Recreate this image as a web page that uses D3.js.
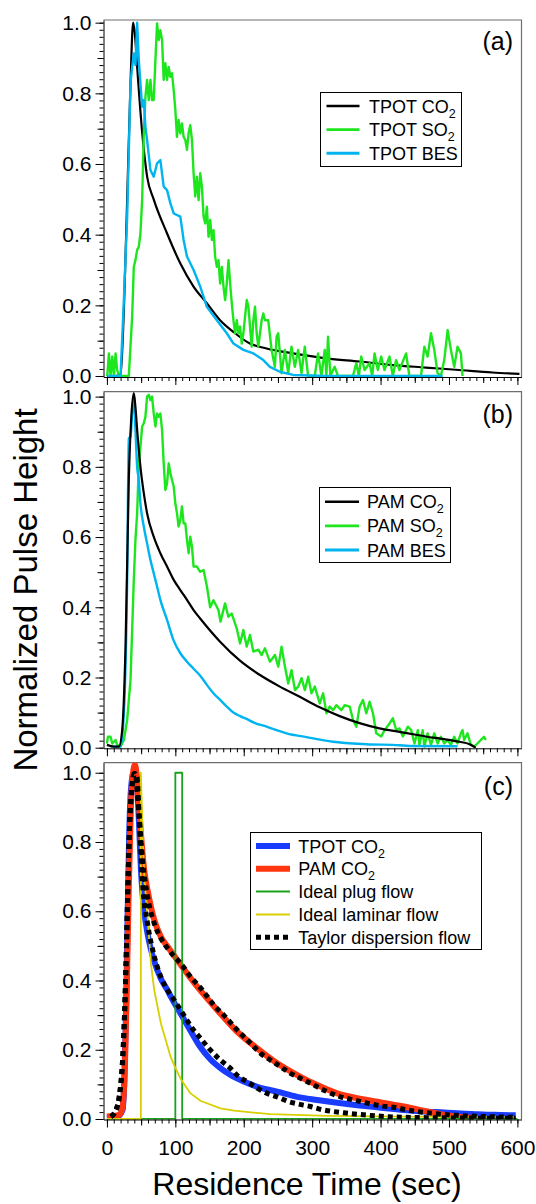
<!DOCTYPE html>
<html>
<head>
<meta charset="utf-8">
<script src="https://cdn.jsdelivr.net/npm/d3@7"></script>
<style>
body { margin: 0; background: #fff; }
text { font-family: "Liberation Sans", Arial, sans-serif; }
</style>
</head>
<body>
<svg id="chart" width="536" height="1204"></svg>
<script>
// series as [residence time (s), normalized pulse height]

// panel (a)
var tpotCO2 = [[0,0],[12,0],[20,0.005],[25,0.2],[29.6,0.5],[34.5,0.83],[38.3,1.0],[40.8,0.97],[44.2,0.875],
    [51.5,0.69],[58.7,0.565],[68.4,0.5],[87.8,0.404],[107.2,0.319],[126.6,0.253],[146,0.206],[165.4,0.158],
    [184.8,0.125],[209,0.092],[233.3,0.078],[272.2,0.064],[320.7,0.05],[369.2,0.041],[417.8,0.031],
    [466.3,0.024],[514.8,0.017],[563.3,0.01],[603,0.006]];

var tpotSO2 = [[0.5,0],[2.9,0.064],[5.3,0],[7.8,0.055],[10.2,0],[12.6,0.064],[15,0.017],[17.5,0],[32,0],
    [36.9,0.168],[39.3,0.309],[41.7,0.328],[44.2,0.357],[46.6,0.366],[49,0.404],[51.5,0.498],[53.9,0.687],
    [56.3,0.791],[58.7,0.838],[61.2,0.781],[63.6,0.838],[66,0.781],[68.4,0.781],[70.9,0.894],[73.3,0.998],
    [75.7,0.951],[78.1,0.979],[80.6,0.951],[83,0.838],[85.4,0.885],[87.9,0.838],[90.3,0.875],[92.7,0.847],
    [95.1,0.857],[97.6,0.809],[100,0.753],[102.4,0.677],[104.8,0.725],[107.3,0.687],[109.7,0.715],
    [112.1,0.677],[114.6,0.668],[117,0.64],[119.4,0.687],[121.8,0.71],[124.3,0.668],[126.7,0.574],
    [129.1,0.508],[131.5,0.564],[134,0.498],[136.4,0.574],[138.8,0.536],[141.3,0.451],[143.7,0.432],
    [146.1,0.479],[148.5,0.394],[151,0.442],[153.4,0.385],[155.8,0.413],[158.2,0.338],[160.7,0.309],
    [163.1,0.328],[165.5,0.262],[168,0.309],[170.4,0.253],[172.8,0.215],[175.2,0.262],[177.7,0.328],
    [180.1,0.262],[182.5,0.206],[184.9,0.158],[187.4,0.121],[189.8,0.158],[192.2,0.121],[194.6,0.14],
    [197.1,0.092],[199.5,0.121],[201.9,0.168],[204.4,0.215],[206.8,0.196],[209.2,0.14],[211.6,0.083],
    [214.1,0.158],[216.5,0.196],[218.9,0.121],[221.3,0.083],[223.8,0.121],[226.2,0.158],[228.6,0.177],
    [231.1,0.158],[235.8,0.158],[240.7,0.074],[245.5,0.026],[248,0.111],[250.4,0.121],[255.2,0.008],
    [260.1,0.074],[265,0.008],[269.8,0.083],[274.7,0.026],[279.5,0.074],[284.4,0.008],[289.2,0.083],
    [294.1,0],[303.8,0],[308.6,0.064],[313.5,0],[318.4,0.074],[320.8,0],[323.2,0.111],[326.6,0],
    [332.9,0.026],[337.8,0],[359.6,0],[364.5,0.036],[368.3,0],[371.7,0.055],[376.6,0.017],[383.9,0.036],
    [387.8,0],[391.2,0.064],[396,0.017],[400.9,0.055],[405.7,0.017],[413,0.055],[417.9,0],[422.7,0.045],
    [427.6,0.017],[437.3,0.064],[442.1,0],[459.1,0],[464,0.083],[468.8,0.055],[473.7,0.121],[478.5,0.074],
    [483.4,0.008],[488.2,0],[493.1,0.045],[498,0.13],[502.8,0.074],[507.7,0.026],[512.5,0.083],
    [517.4,0.064],[519.8,0]];

var tpotBES = [[0.5,0],[19.9,0],[24.8,0.215],[29.6,0.45],[34.5,0.83],[36.9,0.875],[39.3,0.913],[41.7,0.88],
    [44.2,1.0],[46.6,0.894],[49,0.828],[51.5,0.762],[53.9,0.781],[56.3,0.706],[58.7,0.668],[63.6,0.583],
    [68.4,0.564],[73.3,0.602],[78.1,0.611],[83,0.536],[87.9,0.526],[92.7,0.489],[97.6,0.46],[107.3,0.451],
    [112.1,0.385],[117,0.338],[126.7,0.3],[136.4,0.253],[146.1,0.196],[160.7,0.158],[175.2,0.121],
    [184.9,0.092],[199.5,0.074],[214.1,0.064],[228.6,0.045],[238.3,0.026],[252.8,0.012],[272.2,0.003],
    [320,0],[400,0],[490.7,0]];

// panel (b)
var pamCO2 = [[0,0.008],[10.2,0.003],[17.5,0.003],[22.3,0.05],[27.2,0.288],[32,0.763],[35.4,0.934],
    [39.3,1.01],[41.7,0.97],[44.2,0.905],[49,0.8],[53.9,0.725],[58.7,0.668],[68.4,0.601],[78.1,0.554],
    [87.9,0.516],[97.6,0.478],[107.3,0.449],[117,0.421],[126.7,0.392],[136.3,0.368],[165.4,0.302],
    [194.5,0.248],[223.7,0.207],[252.8,0.174],[281.9,0.145],[311,0.115],[340.2,0.09],[369.3,0.07],
    [398.4,0.055],[427.5,0.045],[451.9,0.037],[466,0.032],[490,0.025],[515,0.017],[530,0.01],[539,0]];

var pamSO2 = [[0,0.012],[1.5,0.031],[5.3,0.031],[7.8,0.012],[10.2,0.017],[12.6,0.022],[15,0.008],
    [19.9,0.003],[24.8,0.022],[29.6,0.079],[34.5,0.193],[39.3,0.478],[41.7,0.592],[44.2,0.668],[46.6,0.81],
    [49,0.858],[51.5,0.915],[53.9,0.924],[56.3,0.943],[58.7,1.0],[61.2,1.005],[63.6,0.99],[66,1.0],
    [68.4,0.952],[70.9,0.915],[73.3,0.952],[75.7,0.943],[78.1,0.952],[80.6,0.905],[83,0.81],[85.4,0.734],
    [87.9,0.753],[90.3,0.81],[92.7,0.782],[95.1,0.763],[97.6,0.744],[100,0.696],[102.4,0.668],[104.8,0.63],
    [107.3,0.649],[109.7,0.687],[112.1,0.639],[114.6,0.639],[117,0.592],[119.4,0.554],[121.8,0.601],
    [124.3,0.573],[126.7,0.516],[131.5,0.516],[136.4,0.501],[141.3,0.506],[146.1,0.46],[150.9,0.4],
    [155.7,0.42],[163,0.392],[166,0.359],[172.7,0.411],[177.5,0.373],[182.4,0.382],[189.7,0.34],
    [194.6,0.297],[199.4,0.335],[204.3,0.288],[209.1,0.321],[214,0.274],[221.3,0.279],[226.2,0.264],
    [231,0.283],[238.3,0.245],[245.6,0.264],[250.5,0.231],[255.3,0.288],[260.2,0.231],[265,0.183],
    [269.9,0.221],[274.8,0.164],[279.6,0.174],[284.5,0.198],[289.3,0.164],[294.2,0.202],[299,0.155],
    [303.9,0.174],[311.1,0.126],[316,0.155],[320.9,0.098],[325.7,0.117],[330.6,0.107],[335.4,0.121],
    [342.7,0.107],[347.6,0.121],[354.9,0.117],[359.7,0.079],[364.6,0.06],[369.4,0.117],[374.3,0.136],
    [379.1,0.098],[384,0.131],[388.9,0.098],[393.7,0.041],[401,0.032],[405.9,0.05],[413.2,0.069],
    [418,0.084],[422.9,0.05],[427.7,0.055],[432.6,0.032],[439.9,0.06],[444.8,0.05],[449.6,0.012],
    [454.5,0.05],[456.7,0.008],[461.5,0.05],[464,0.003],[468.8,0.041],[473.7,0.008],[478.5,0.041],
    [483.4,0.012],[488.2,0.031],[493.1,0.012],[498,0.022],[502.8,0.008],[507.7,0.031],[512.5,0.012],
    [517.4,0.041],[519.8,0.05],[522.2,0.022],[527.1,0.041],[532,0.008],[536.8,0.003],[541.6,0.012],
    [546.5,0.022],[551.3,0.031],[553.8,0.022]];

var pamBES = [[5.3,0.003],[19.9,0.003],[24.8,0.098],[29.6,0.478],[32,0.881],[34.5,0.886],[36.9,0.952],
    [39.3,1.005],[41.7,0.905],[44.2,0.8],[46.6,0.763],[49,0.696],[53.9,0.63],[58.7,0.582],[63.6,0.535],
    [68.4,0.497],[73.3,0.459],[78.1,0.421],[87.9,0.364],[97.6,0.305],[107.3,0.269],[117,0.245],
    [126.7,0.225],[136.4,0.205],[146.1,0.179],[155.7,0.155],[165.5,0.136],[175.2,0.117],[184.9,0.1],
    [194.6,0.09],[204.3,0.082],[214.1,0.072],[233.4,0.06],[248,0.05],[262.6,0.041],[291.7,0.03],
    [330.4,0.017],[379,0.01],[427.5,0.007],[442.1,0.005],[512.5,0.004]];

// panel (c)
var fitTpotCO2 = [[0,0.002],[15.6,0.007],[22.9,0.026],[25.3,0.103],[27.8,0.295],[30.2,0.584],[32.6,0.825],
    [35.1,0.95],[39,1.0],[42.4,0.998],[44.8,0.94],[47.2,0.84],[49.7,0.72],[52.1,0.65],[54.5,0.6],
    [59.4,0.535],[64.3,0.49],[69.2,0.455],[78.9,0.405],[88.6,0.372],[93,0.355],[107.6,0.305],
    [122.2,0.255],[136.8,0.207],[151.4,0.172],[166,0.147],[180.7,0.127],[200.1,0.108],[219.7,0.093],
    [248.9,0.079],[278.2,0.064],[307.4,0.055],[336.6,0.047],[365.9,0.04],[395.1,0.034],[434,0.026],
    [468.5,0.021],[492.9,0.019],[517.2,0.016],[541.6,0.014],[565.9,0.012],[597.6,0.011]];

var fitPamCO2 = [[0,0.007],[18,0.012],[22.9,0.036],[26.3,0.151],[29.2,0.392],[32.1,0.68],[35.1,0.902],
    [38,0.998],[40.9,1.022],[44.8,0.969],[49.7,0.825],[54.5,0.719],[59.4,0.661],[64.3,0.613],[69.2,0.575],
    [78.9,0.526],[88.6,0.498],[102.8,0.459],[132,0.382],[161.2,0.315],[190.5,0.252],[219.7,0.204],
    [248.9,0.161],[278.2,0.127],[307.4,0.098],[336.6,0.074],[365.9,0.06],[395.1,0.05],[434,0.036],
    [468,0.022],[493,0.012],[517,0.006],[537,0.003]];

var plugFlow = [[0,0],[100,0],[100,1],[110,1],[110,0],[600,0]];

var laminarFlow = [[0,0],[49.6,0],[49.6,1.0],[52.1,0.825],[54.5,0.7],[59.4,0.584],[64.3,0.449],
    [69.2,0.372],[78.9,0.276],[88.6,0.21],[93,0.18],[98.4,0.155],[108.1,0.115],[122.2,0.074],
    [137.3,0.052],[166,0.031],[186,0.024],[239.1,0.014],[322,0.009],[434,0.007],[597.6,0.006]];

var taylorTpot = [[5.8,0.007],[13.1,0.026],[18,0.064],[22.9,0.17],[25.3,0.276],[27.8,0.44],[30.2,0.632],
    [32.6,0.815],[35.1,0.921],[39.9,0.998],[43.8,0.988],[47.2,0.873],[52.1,0.68],[59.4,0.565],
    [69.2,0.47],[78.9,0.41],[88.6,0.372],[97.8,0.345],[112.4,0.3],[124.7,0.262],[136.8,0.233],
    [149,0.204],[166,0.17],[180.7,0.146],[192.8,0.122],[207.4,0.105],[219.7,0.089],[234.3,0.074],
    [248.9,0.064],[265.9,0.05],[280.5,0.043],[297.6,0.036],[312.2,0.028],[346.3,0.018],[375.5,0.012],
    [434,0.005],[597.6,0.002]];

var taylorPam = [[5.8,0.007],[13.1,0.026],[18,0.064],[22.9,0.17],[25.3,0.276],[27.8,0.44],[30.2,0.632],
    [32.6,0.815],[35.1,0.921],[40.9,0.998],[47.2,0.873],[52.1,0.748],[59.4,0.642],[69.2,0.565],
    [78.9,0.522],[88.6,0.493],[98.4,0.469],[107.6,0.45],[122.2,0.411],[139.3,0.373],[156.3,0.329],
    [170.9,0.3],[190.5,0.257],[209.9,0.219],[224.5,0.19],[239.1,0.17],[253.7,0.151],[268.4,0.132],
    [287.8,0.113],[307.4,0.093],[322,0.079],[341.5,0.064],[360.9,0.055],[380.5,0.046],[399.9,0.038],
    [419.4,0.034],[439,0.026],[468.5,0.018],[492.9,0.013],[517.2,0.01],[597.6,0.005]];

var xTicks = [0, 100, 200, 300, 400, 500, 600];
var yTicks = [0, 0.2, 0.4, 0.6, 0.8, 1.0];

var green = '#1ee61e', sky = '#00b4f0';

var panels = [
    { label: '(a)', top: 20, bottom: 377, yMin: -0.0028, yMax: 1.0076, labelY: 50,
      series: [
        { data: tpotCO2, color: '#000', width: 2.2, smooth: true },
        { data: tpotSO2, color: green, width: 2.4 },
        { data: tpotBES, color: sky, width: 2.4 }
      ],
      legend: { x: 320.5, y: 92.5, w: 141, h: 74, rowY: 13.5, step: 23.6, lx: 6, lw: 33, tx: 48.5,
        items: [
          { name: 'TPOT CO', sub: '2', color: '#000', width: 2.6 },
          { name: 'TPOT SO', sub: '2', color: green, width: 2.6 },
          { name: 'TPOT BES', color: sky, width: 3 }
        ] } },
    { label: '(b)', top: 391.7, bottom: 748.3, yMin: -0.0017, yMax: 1.014, labelY: 423,
      series: [
        { data: pamSO2, color: green, width: 2.4 },
        { data: pamBES, color: sky, width: 2.4, smooth: true },
        { data: pamCO2, color: '#000', width: 2.2, smooth: true }
      ],
      legend: { x: 319.5, y: 487.5, w: 131, h: 75, rowY: 14.2, step: 24.2, lx: 5.5, lw: 34, tx: 47.5,
        items: [
          { name: 'PAM CO', sub: '2', color: '#000', width: 2.6 },
          { name: 'PAM SO', sub: '2', color: green, width: 2.6 },
          { name: 'PAM BES', color: sky, width: 3 }
        ] } },
    { label: '(c)', top: 762.7, bottom: 1119.5, yMin: -0.0014, yMax: 1.029, labelY: 795,
      series: [
        { data: fitTpotCO2, color: '#1a3cff', width: 6, smooth: true },
        { data: fitPamCO2, color: '#ff3512', width: 6, smooth: true },
        { data: plugFlow, color: '#1aa31a', width: 1.8 },
        { data: laminarFlow, color: '#d9cf00', width: 1.8 },
        { data: taylorTpot, color: '#000', width: 5, dash: '5,4', smooth: true },
        { data: taylorPam, color: '#000', width: 5, dash: '5,4', smooth: true }
      ],
      legend: { x: 250.5, y: 832.5, w: 231, h: 117, rowY: 13.5, step: 22.8, lx: 5.5, lw: 34, tx: 47.8,
        items: [
          { name: 'TPOT CO', sub: '2', color: '#1a3cff', width: 6 },
          { name: 'PAM CO', sub: '2', color: '#ff3512', width: 6 },
          { name: 'Ideal plug flow', color: '#1aa31a', width: 2 },
          { name: 'Ideal laminar flow', color: '#d9cf00', width: 2 },
          { name: 'Taylor dispersion flow', color: '#000', width: 5, dash: '5,4' }
        ] } }
];

var svg = d3.select('#chart');

var x = d3.scaleLinear().domain([-5, 606]).range([103.5, 521.5]);
var left = x.range()[0], right = x.range()[1];

panels.forEach(function(p, i) {
    var y = d3.scaleLinear().domain([p.yMin, p.yMax]).range([p.bottom, p.top]);
    var g = svg.append('g');

    g.append('clipPath').attr('id', 'clip' + i)
        .append('rect')
        .attr('x', left).attr('y', p.top)
        .attr('width', right - left).attr('height', p.bottom - p.top);

    // top and right border
    g.append('path')
        .attr('d', 'M' + left + ',' + p.top + 'H' + right + 'V' + p.bottom)
        .attr('fill', 'none')
        .attr('stroke', '#6e6e6e')
        .attr('stroke-width', 1.2);

    var plot = g.append('g').attr('clip-path', 'url(#clip' + i + ')');

    p.series.forEach(function(s) {
        var line = d3.line()
            .x(function(d) { return x(d[0]); })
            .y(function(d) { return y(d[1]); })
            .curve(s.smooth ? d3.curveMonotoneX : d3.curveLinear);
        plot.append('path')
            .datum(s.data)
            .attr('d', line)
            .attr('fill', 'none')
            .attr('stroke', s.color)
            .attr('stroke-width', s.width)
            .attr('stroke-linejoin', 'round')
            .attr('stroke-dasharray', s.dash || null);
    });

    // minor / mid ticks first, then the labelled axis
    g.append('g')
        .attr('transform', 'translate(' + left + ',0)')
        .call(d3.axisLeft(y).tickValues(d3.range(0, 1.001, 0.02)).tickSize(4).tickFormat(''))
        .call(function(a) { a.select('.domain').remove(); });
    g.append('g')
        .attr('transform', 'translate(' + left + ',0)')
        .call(d3.axisLeft(y).tickValues(d3.range(0.1, 1, 0.2)).tickSize(6).tickFormat(''))
        .call(function(a) { a.select('.domain').remove(); });
    g.append('g')
        .attr('transform', 'translate(' + left + ',0)')
        .call(d3.axisLeft(y).tickValues(yTicks).tickSize(8).tickSizeOuter(0)
            .tickPadding(4).tickFormat(d3.format('.1f')));

    g.append('g')
        .attr('transform', 'translate(0,' + p.bottom + ')')
        .call(d3.axisBottom(x).tickValues(d3.range(0, 601, 10)).tickSize(4).tickFormat(''))
        .call(function(a) { a.select('.domain').remove(); });
    g.append('g')
        .attr('transform', 'translate(0,' + p.bottom + ')')
        .call(d3.axisBottom(x).tickValues(d3.range(50, 600, 100)).tickSize(6).tickFormat(''))
        .call(function(a) { a.select('.domain').remove(); });
    g.append('g')
        .attr('transform', 'translate(0,' + p.bottom + ')')
        .call(d3.axisBottom(x).tickValues(xTicks).tickSize(8).tickSizeOuter(0).tickPadding(13)
            .tickFormat(i === 2 ? d3.format('d') : ''));

    g.selectAll('.tick line, .domain').attr('stroke', '#000');
    g.selectAll('.tick text')
        .attr('fill', '#000')
        .style('font-family', '"Liberation Sans", Arial, sans-serif')
        .style('font-size', '21px');

    // panel label
    g.append('text')
        .attr('x', 513).attr('y', p.labelY)
        .attr('text-anchor', 'end')
        .style('font-size', '25px')
        .text(p.label);

    // legend
    var L = p.legend;
    var leg = g.append('g').attr('transform', 'translate(' + L.x + ',' + L.y + ')');
    leg.append('rect')
        .attr('width', L.w).attr('height', L.h)
        .attr('fill', '#fff').attr('stroke', '#000').attr('stroke-width', 1);
    L.items.forEach(function(it, k) {
        var ry = L.rowY + k * L.step;
        leg.append('line')
            .attr('x1', L.lx).attr('x2', L.lx + L.lw)
            .attr('y1', ry).attr('y2', ry)
            .attr('stroke', it.color)
            .attr('stroke-width', it.width)
            .attr('stroke-dasharray', it.dash || null);
        var t = leg.append('text')
            .attr('x', L.tx).attr('y', ry + 6.5)
            .style('font-size', '18px');
        t.append('tspan').text(it.name);
        if (it.sub) {
            t.append('tspan').attr('dy', 5).style('font-size', '12.5px').text(it.sub);
        }
    });
});

// axis titles
svg.append('text')
    .attr('transform', 'translate(37,590) rotate(-90)')
    .attr('text-anchor', 'middle')
    .style('font-size', '33px')
    .text('Normalized Pulse Height');

svg.append('text')
    .attr('x', 307).attr('y', 1195)
    .attr('text-anchor', 'middle')
    .style('font-size', '32px')
    .text('Residence Time (sec)');
</script>
</body>
</html>
